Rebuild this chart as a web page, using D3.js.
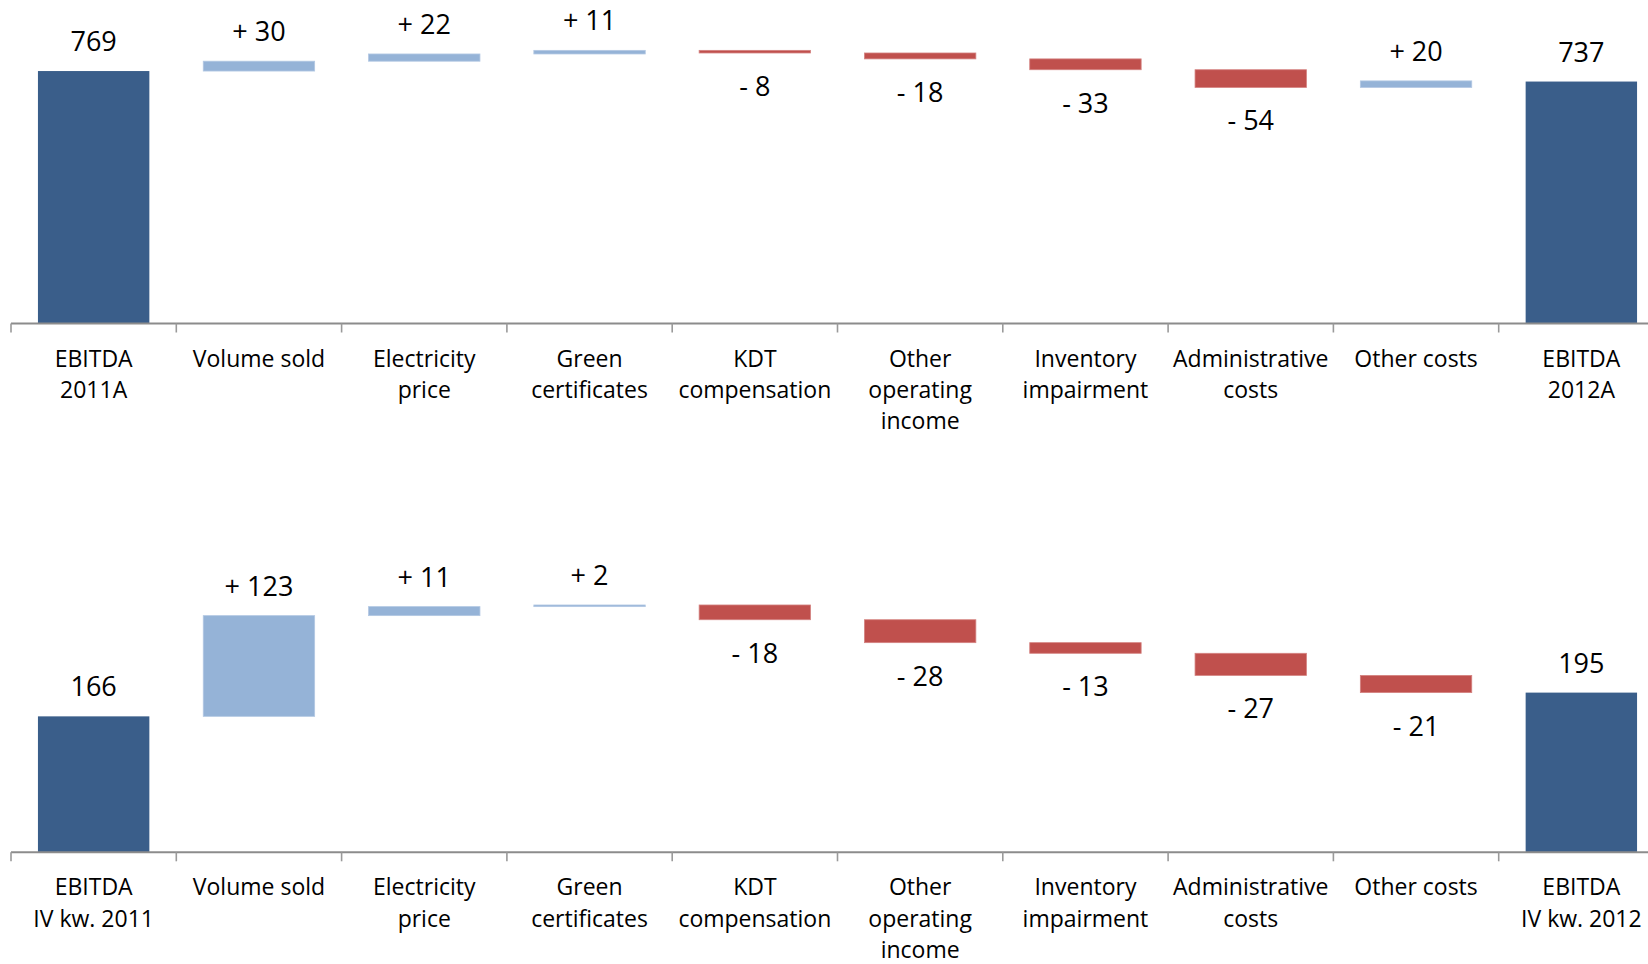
<!DOCTYPE html>
<html>
<head>
<meta charset="utf-8">
<script src="https://cdn.jsdelivr.net/npm/d3@7"></script>
<style>
  html, body { margin: 0; padding: 0; background: #fff; }
  svg { display: block; }
  text { font-family: "Open Sans", "DejaVu Sans", sans-serif; fill: #000; }
</style>
</head>
<body>
<svg id="chart" width="1648" height="964"></svg>
<script>
// ---- data ----
const categoriesTop = ["EBITDA\n2011A", "Volume sold", "Electricity\nprice", "Green\ncertificates", "KDT\ncompensation", "Other\noperating\nincome", "Inventory\nimpairment", "Administrative\ncosts", "Other costs", "EBITDA\n2012A"];
const categoriesBottom = ["EBITDA\nIV kw. 2011", "Volume sold", "Electricity\nprice", "Green\ncertificates", "KDT\ncompensation", "Other\noperating\nincome", "Inventory\nimpairment", "Administrative\ncosts", "Other costs", "EBITDA\nIV kw. 2012"];
const startTop = 769;
const deltasTop = [30, 22, 11, -8, -18, -33, -54, 20];
const endTop = 737;
const startBottom = 166;
const deltasBottom = [123, 11, 2, -18, -28, -13, -27, -21];
const endBottom = 195;

// ---- styles ----
const COL_TOTAL = "#3A5E8A";
const COL_POS = "#95B3D7";
const COL_POS_EDGE = "#B3C8E3";
const COL_NEG = "#C0504D";
const COL_NEG_EDGE = "#D48381";

const svg = d3.select("#chart");

function buildSteps(start, deltas, end) {
  const steps = [];
  steps.push({type: "total", y0: 0, y1: start, value: start});
  let cum = start;
  deltas.forEach(d => {
    steps.push({type: d >= 0 ? "pos" : "neg", y0: cum, y1: cum + d, value: d});
    cum += d;
  });
  steps.push({type: "total", y0: 0, y1: end, value: end});
  return steps;
}

function drawPanel(cfg) {
  const g = svg.append("g");
  const n = cfg.categories.length;
  const idx = d3.range(n);
  const x = d3.scaleBand().domain(idx).range([11, 1664]).paddingInner(0.326).paddingOuter(0.163);
  const xb = d3.scaleLinear().domain([0, n]).range([11, 1664]);
  const y = d3.scaleLinear().domain([0, cfg.ymax]).range([cfg.base, cfg.top]);
  const steps = buildSteps(cfg.start, cfg.deltas, cfg.end);

  // bars
  g.selectAll("rect.bar").data(steps).enter().append("rect")
    .attr("class", "bar")
    .attr("x", (d, i) => x(i))
    .attr("width", x.bandwidth())
    .attr("y", d => y(Math.max(d.y0, d.y1)))
    .attr("height", d => Math.abs(y(d.y0) - y(d.y1)))
    .attr("fill", d => d.type === "total" ? COL_TOTAL : d.type === "pos" ? COL_POS : COL_NEG)
    .attr("stroke", d => d.type === "total" ? "none" : d.type === "pos" ? COL_POS_EDGE : COL_NEG_EDGE)
    .attr("stroke-width", 0.8);

  // value labels
  g.selectAll("text.val").data(steps).enter().append("text")
    .attr("class", "val")
    .attr("x", (d, i) => x(i) + x.bandwidth() / 2)
    .attr("y", d => d.type === "neg" ? y(Math.min(d.y0, d.y1)) + 43 : y(Math.max(d.y0, d.y1)) - 20)
    .attr("text-anchor", "middle")
    .style("font-size", "27px")
    .text(d => d.type === "total" ? d3.format("d")(d.value) : (d.value >= 0 ? "+ " + d.value : "- " + Math.abs(d.value)));

  // axis line
  g.append("line")
    .attr("x1", xb(0)).attr("x2", 1648)
    .attr("y1", cfg.base).attr("y2", cfg.base)
    .attr("stroke", "#8C8C8C").attr("stroke-width", 2);
  // ticks at category boundaries
  g.selectAll("line.tick").data(d3.range(n)).enter().append("line")
    .attr("class", "tick")
    .attr("x1", d => xb(d)).attr("x2", d => xb(d))
    .attr("y1", cfg.base).attr("y2", cfg.base + 9)
    .attr("stroke", "#9A9A9A").attr("stroke-width", 1.6);

  // category labels
  const lab = g.selectAll("text.cat").data(cfg.categories).enter().append("text")
    .attr("class", "cat")
    .attr("text-anchor", "middle")
    .style("font-size", "23px")
    .attr("transform", (d, i) => `translate(${x(i) + x.bandwidth() / 2},${cfg.base + 43})`);
  lab.each(function(d) {
    const t = d3.select(this);
    d.split("\n").forEach((line, k) => {
      t.append("tspan").attr("x", 0).attr("y", k * 31.4).text(line);
    });
  });
}

drawPanel({categories: categoriesTop, start: startTop, deltas: deltasTop, end: endTop,
  base: 323.5, top: 0, ymax: 985.4});
drawPanel({categories: categoriesBottom, start: startBottom, deltas: deltasBottom, end: endBottom,
  base: 852.3, top: 500, ymax: 430.2});
</script>
</body>
</html>
